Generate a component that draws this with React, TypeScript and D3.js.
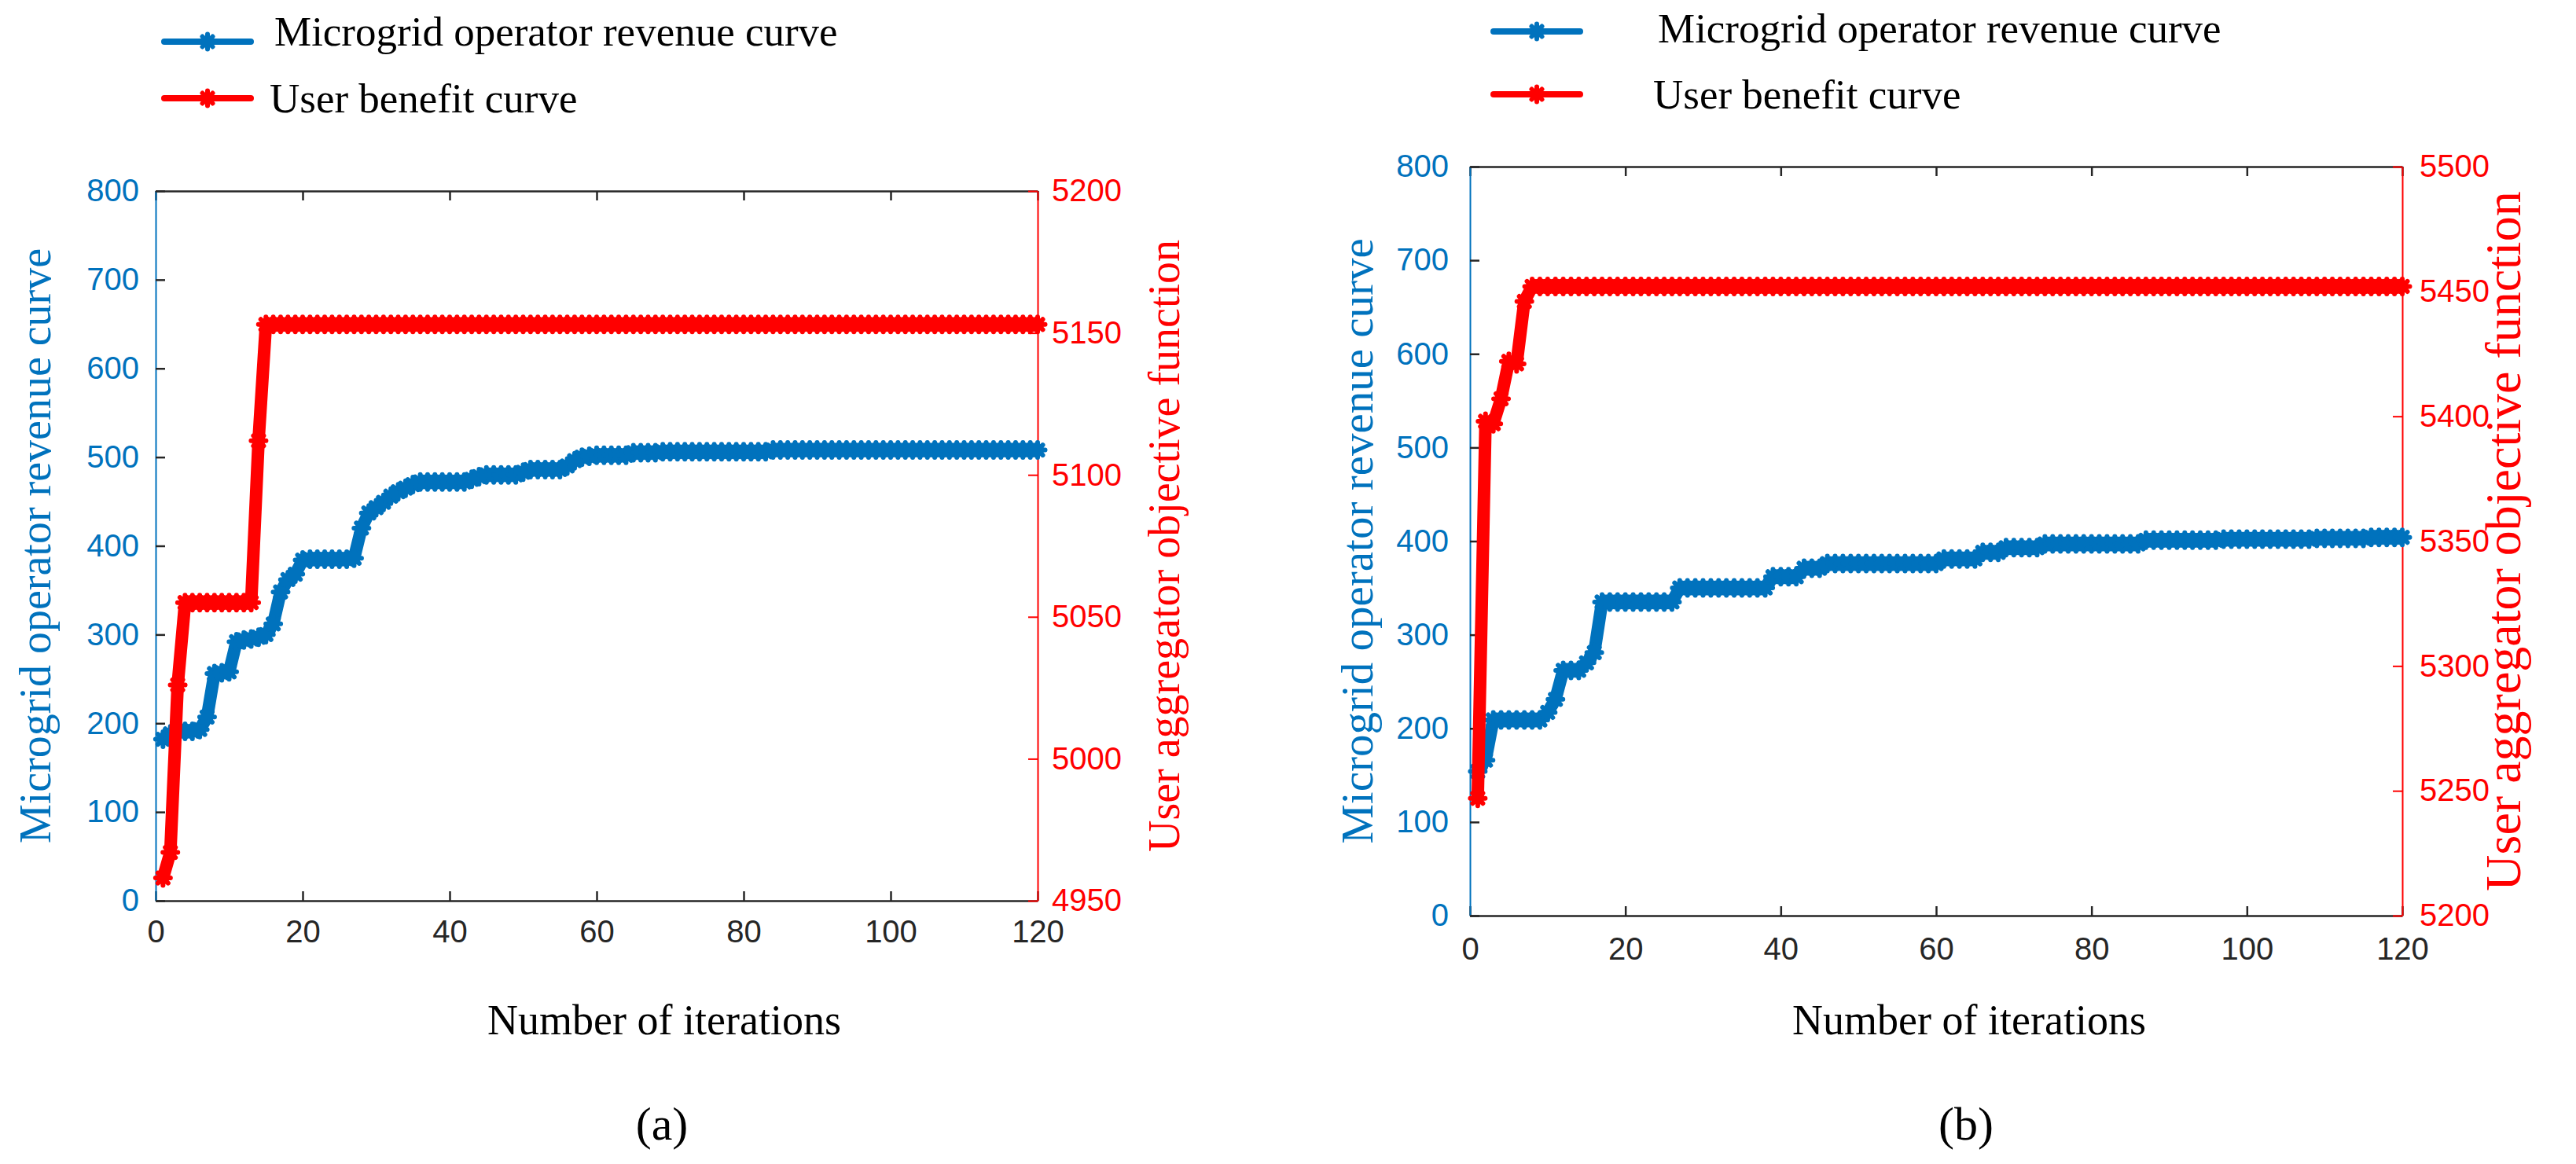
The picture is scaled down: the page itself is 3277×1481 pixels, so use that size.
import React, { useEffect, useRef } from 'react';
import * as d3 from 'd3';

const WIDTH = 3277;
const HEIGHT = 1481;

const BLUE = '#0072BD';
const RED = '#FF0000';
const DARK = '#262626';
const SERIF = '"Liberation Serif", "Times New Roman", serif';
const SANS = '"Liberation Sans", Arial, Helvetica, sans-serif';

// tick labels
const xTicks = [0, 20, 40, 60, 80, 100, 120];
const leftTicks = [0, 100, 200, 300, 400, 500, 600, 700, 800];
const rightTicksA = [4950, 5000, 5050, 5100, 5150, 5200];
const rightTicksB = [5200, 5250, 5300, 5350, 5400, 5450, 5500];

// texts
const legendLabels = ['Microgrid operator revenue curve', 'User benefit curve'];
const xTitle = 'Number of iterations';
const leftTitle = 'Microgrid operator revenue curve';
const rightTitle = 'User aggregator objective function';
const panelTags = ['(a)', '(b)'];

// iterations 1..120
const revenueA = [
  182, 188, 191, 191, 191, 193, 207, 256, 257, 258,
  292, 294, 295, 297, 300, 312, 348, 362, 368, 384,
  385, 385, 385, 385, 385, 385, 386, 420, 437, 443,
  449, 456, 461, 465, 469, 472, 472, 472, 472, 472,
  472, 472, 475, 478, 480, 480, 480, 480, 480, 483,
  486, 486, 486, 486, 486, 490, 496, 500, 501, 502,
  502, 502, 502, 502, 505, 505, 505, 505, 506, 506,
  506, 506, 506, 506, 506, 506, 506, 506, 506, 506,
  506, 506, 506, 508, 508, 508, 508, 508, 508, 508,
  508, 508, 508, 508, 508, 508, 508, 508, 508, 508,
  508, 508, 508, 508, 508, 508, 508, 508, 508, 508,
  508, 508, 508, 508, 508, 508, 508, 508, 508, 508,
];

const benefitA = [
  4958, 4967, 5026, 5055, 5055, 5055, 5055, 5055, 5055, 5055,
  5055, 5055, 5055, 5112, 5153, 5153, 5153, 5153, 5153, 5153,
  5153, 5153, 5153, 5153, 5153, 5153, 5153, 5153, 5153, 5153,
  5153, 5153, 5153, 5153, 5153, 5153, 5153, 5153, 5153, 5153,
  5153, 5153, 5153, 5153, 5153, 5153, 5153, 5153, 5153, 5153,
  5153, 5153, 5153, 5153, 5153, 5153, 5153, 5153, 5153, 5153,
  5153, 5153, 5153, 5153, 5153, 5153, 5153, 5153, 5153, 5153,
  5153, 5153, 5153, 5153, 5153, 5153, 5153, 5153, 5153, 5153,
  5153, 5153, 5153, 5153, 5153, 5153, 5153, 5153, 5153, 5153,
  5153, 5153, 5153, 5153, 5153, 5153, 5153, 5153, 5153, 5153,
  5153, 5153, 5153, 5153, 5153, 5153, 5153, 5153, 5153, 5153,
  5153, 5153, 5153, 5153, 5153, 5153, 5153, 5153, 5153, 5153,
];

const revenueB = [
  154, 166, 209, 209, 209, 209, 209, 209, 209, 217,
  231, 262, 262, 262, 270, 281, 335, 335, 335, 335,
  335, 335, 335, 335, 335, 335, 350, 350, 350, 350,
  350, 350, 350, 350, 350, 350, 350, 350, 362, 362,
  362, 362, 371, 371, 371, 376, 376, 376, 376, 376,
  376, 376, 376, 376, 376, 376, 376, 376, 376, 376,
  381, 381, 381, 381, 381, 388, 388, 388, 393, 393,
  393, 393, 393, 397, 397, 397, 397, 397, 397, 397,
  397, 397, 397, 397, 397, 397, 401, 401, 401, 401,
  401, 401, 401, 401, 401, 401, 402, 402, 402, 402,
  402, 402, 402, 402, 402, 402, 402, 402, 403, 403,
  403, 403, 403, 403, 403, 404, 404, 404, 404, 404,
];

const benefitB = [
  5247, 5398, 5397, 5407, 5422, 5421, 5446, 5452, 5452, 5452,
  5452, 5452, 5452, 5452, 5452, 5452, 5452, 5452, 5452, 5452,
  5452, 5452, 5452, 5452, 5452, 5452, 5452, 5452, 5452, 5452,
  5452, 5452, 5452, 5452, 5452, 5452, 5452, 5452, 5452, 5452,
  5452, 5452, 5452, 5452, 5452, 5452, 5452, 5452, 5452, 5452,
  5452, 5452, 5452, 5452, 5452, 5452, 5452, 5452, 5452, 5452,
  5452, 5452, 5452, 5452, 5452, 5452, 5452, 5452, 5452, 5452,
  5452, 5452, 5452, 5452, 5452, 5452, 5452, 5452, 5452, 5452,
  5452, 5452, 5452, 5452, 5452, 5452, 5452, 5452, 5452, 5452,
  5452, 5452, 5452, 5452, 5452, 5452, 5452, 5452, 5452, 5452,
  5452, 5452, 5452, 5452, 5452, 5452, 5452, 5452, 5452, 5452,
  5452, 5452, 5452, 5452, 5452, 5452, 5452, 5452, 5452, 5452,
];

// matlab-ish '*' marker
const asterisk = 'M-9.5,0H9.5M0,-9.5V9.5M-6.5,-6.5L6.5,6.5M-6.5,6.5L6.5,-6.5';

interface Layout {
  left: number; right: number; top: number; bottom: number;
  rightDomain: [number, number];
  leftPad: number; rightPad: number; xPad: number;
  legendLine: [number, number]; legendY: [number, number];
  legendTextX: [number, number]; legendTextDy: [number, number];
  leftTitleX: number; leftTitleSize: number;
  rightTitleX: number; rightTitleSize: number;
  xTitleX: number; tagX: number;
}

const layoutA: Layout = {
  left: 198, right: 1320, top: 243, bottom: 1146,
  rightDomain: [4950, 5200],
  leftPad: 21, rightPad: 18, xPad: 25,
  legendLine: [209, 319], legendY: [53, 125],
  legendTextX: [349, 343], legendTextDy: [5, 18],
  leftTitleX: 52, leftTitleSize: 56,
  rightTitleX: 1488, rightTitleSize: 56,
  xTitleX: 845, tagX: 842,
};

const layoutB: Layout = {
  left: 1870, right: 3056, top: 212, bottom: 1165,
  rightDomain: [5200, 5500],
  leftPad: 27, rightPad: 22, xPad: 28,
  legendLine: [1900, 2010], legendY: [40, 120],
  legendTextX: [2109, 2103], legendTextDy: [14, 18],
  leftTitleX: 1733, leftTitleSize: 57,
  rightTitleX: 3192, rightTitleSize: 64,
  xTitleX: 2505, tagX: 2501,
};

function drawPanel(
  svg: d3.Selection<SVGSVGElement, unknown, null, undefined>,
  p: Layout,
  revenue: number[],
  benefit: number[],
  rightTicks: number[],
  tag: string
) {
  const x = d3.scaleLinear().domain([0, 120]).range([p.left, p.right]);
  const yL = d3.scaleLinear().domain([0, 800]).range([p.bottom, p.top]);
  const yR = d3.scaleLinear().domain(p.rightDomain).range([p.bottom, p.top]);

  const g = svg.append('g');

  // top box line with inward ticks
  const top = g.append('g')
    .attr('transform', `translate(0,${p.top})`)
    .call(d3.axisTop(x).tickValues(xTicks).tickSize(-12).tickSizeOuter(0).tickFormat(() => ''));
  top.select('.domain').attr('stroke', DARK).attr('stroke-width', 2.5);
  top.selectAll('.tick line').attr('stroke', DARK).attr('stroke-width', 2.5);

  // bottom axis
  const bottom = g.append('g')
    .attr('transform', `translate(0,${p.bottom})`)
    .call(d3.axisBottom(x).tickValues(xTicks).tickSize(-12).tickSizeOuter(0).tickPadding(p.xPad));
  bottom.select('.domain').attr('stroke', DARK).attr('stroke-width', 2.5);
  bottom.selectAll('.tick line').attr('stroke', DARK).attr('stroke-width', 2.5);
  bottom.selectAll('.tick text')
    .attr('fill', DARK)
    .style('font-family', SANS)
    .style('font-size', '40px');

  // left axis
  const left = g.append('g')
    .attr('transform', `translate(${p.left},0)`)
    .call(d3.axisLeft(yL).tickValues(leftTicks).tickSize(-12).tickSizeOuter(0).tickPadding(p.leftPad));
  left.select('.domain').attr('stroke', BLUE).attr('stroke-width', 2);
  left.selectAll('.tick line').attr('stroke', DARK).attr('stroke-width', 2.5);
  left.selectAll('.tick text')
    .attr('fill', BLUE)
    .style('font-family', SANS)
    .style('font-size', '40px');

  // right axis
  const right = g.append('g')
    .attr('transform', `translate(${p.right},0)`)
    .call(d3.axisRight(yR).tickValues(rightTicks).tickSize(-12).tickSizeOuter(0)
      .tickPadding(p.rightPad).tickFormat(d3.format('d')));
  right.select('.domain').attr('stroke', RED).attr('stroke-width', 2);
  right.selectAll('.tick line').attr('stroke', RED).attr('stroke-width', 2);
  right.selectAll('.tick text')
    .attr('fill', RED)
    .style('font-family', SANS)
    .style('font-size', '40px');

  // series: blue on left axis, red on right axis (red drawn on top)
  const series = [
    { values: revenue, y: yL, color: BLUE },
    { values: benefit, y: yR, color: RED },
  ];

  series.forEach(s => {
    const line = d3.line<number>()
      .x((_, i) => x(i + 1))
      .y(d => s.y(d));

    g.append('path')
      .datum(s.values)
      .attr('d', line)
      .attr('fill', 'none')
      .attr('stroke', s.color)
      .attr('stroke-width', 16)
      .attr('stroke-linejoin', 'round')
      .attr('stroke-linecap', 'round');

    g.append('g')
      .selectAll('path')
      .data(s.values)
      .join('path')
      .attr('transform', (d, i) => `translate(${x(i + 1)},${s.y(d)})`)
      .attr('d', asterisk)
      .attr('fill', 'none')
      .attr('stroke', s.color)
      .attr('stroke-width', 6)
      .attr('stroke-linecap', 'round');
  });

  // legend
  [BLUE, RED].forEach((color, i) => {
    const ly = p.legendY[i];
    const lg = g.append('g');
    lg.append('line')
      .attr('x1', p.legendLine[0]).attr('x2', p.legendLine[1])
      .attr('y1', ly).attr('y2', ly)
      .attr('stroke', color)
      .attr('stroke-width', 8)
      .attr('stroke-linecap', 'round');
    lg.append('path')
      .attr('transform', `translate(${(p.legendLine[0] + p.legendLine[1]) / 2},${ly})`)
      .attr('d', asterisk)
      .attr('fill', 'none')
      .attr('stroke', color)
      .attr('stroke-width', 6)
      .attr('stroke-linecap', 'round');
    lg.append('text')
      .attr('x', p.legendTextX[i])
      .attr('y', ly + p.legendTextDy[i])
      .attr('fill', '#000')
      .style('font-family', SERIF)
      .style('font-size', '53px')
      .text(legendLabels[i]);
  });

  // axis titles
  const midY = (p.top + p.bottom) / 2;
  g.append('text')
    .attr('transform', `translate(${p.leftTitleX},${midY}) rotate(-90)`)
    .attr('text-anchor', 'middle')
    .attr('dy', '0.22em')
    .attr('fill', BLUE)
    .style('font-family', SERIF)
    .style('font-size', `${p.leftTitleSize}px`)
    .text(leftTitle);

  g.append('text')
    .attr('transform', `translate(${p.rightTitleX},${midY}) rotate(-90)`)
    .attr('text-anchor', 'middle')
    .attr('dy', '0.22em')
    .attr('fill', RED)
    .style('font-family', SERIF)
    .style('font-size', `${p.rightTitleSize}px`)
    .text(rightTitle);

  g.append('text')
    .attr('x', p.xTitleX)
    .attr('y', 1316)
    .attr('text-anchor', 'middle')
    .attr('fill', '#000')
    .style('font-family', SERIF)
    .style('font-size', '54px')
    .text(xTitle);

  g.append('text')
    .attr('x', p.tagX)
    .attr('y', 1450)
    .attr('text-anchor', 'middle')
    .attr('fill', '#000')
    .style('font-family', SERIF)
    .style('font-size', '60px')
    .text(tag);
}

export default function App() {
  const svgRef = useRef<SVGSVGElement>(null);

  useEffect(() => {
    if (!svgRef.current) return;
    const svg = d3.select(svgRef.current);
    svg.selectAll('*').remove();

    svg.append('rect')
      .attr('width', WIDTH)
      .attr('height', HEIGHT)
      .attr('fill', '#fff');

    drawPanel(svg, layoutA, revenueA, benefitA, rightTicksA, panelTags[0]);
    drawPanel(svg, layoutB, revenueB, benefitB, rightTicksB, panelTags[1]);
  }, []);

  return (
    <div style={{ position: 'absolute', left: 0, top: 0, width: WIDTH, height: HEIGHT, background: '#fff' }}>
      <svg ref={svgRef} width={WIDTH} height={HEIGHT} />
    </div>
  );
}
